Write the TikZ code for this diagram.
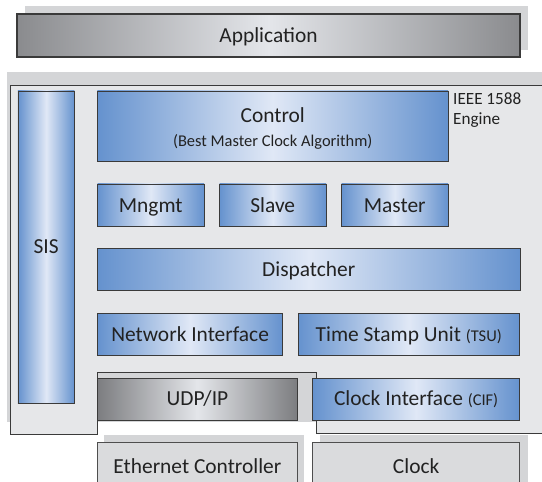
\documentclass[tikz,border=0pt]{standalone}
\usepackage{fontspec}
\setmainfont{Carlito}
\definecolor{blueE}{HTML}{6592CE}
\definecolor{blueL}{HTML}{E0E8F6}
\definecolor{grayE}{HTML}{8A8B8E}
\definecolor{grayD}{HTML}{7C7D80}
\definecolor{grayL}{HTML}{E4E6EA}
\definecolor{lightbox}{HTML}{DADBDD}
\definecolor{shadowc}{HTML}{D4D5D7}
\definecolor{framec}{HTML}{E6E7E9}
\definecolor{edgec}{HTML}{3A3A3A}
\definecolor{textc}{HTML}{222222}
\newcommand\bigfont{\fontsize{21.5}{24}\selectfont}
\newcommand\smallfont{\fontsize{16.5}{19}\selectfont}
\tikzset{
  box/.style={draw=edgec, line width=0.9bp, inner sep=0pt, text=textc,
    font=\bigfont, text height=13.8bp, text depth=0pt},
  bluebox/.style={box, left color=blueE, right color=blueE, middle color=blueL},
  graybox/.style={box, left color=grayE, right color=grayE, middle color=grayL},
  darkgraybox/.style={box, left color=grayD, right color=grayD, middle color=grayL},
  plainbox/.style={box, fill=lightbox, draw=edgec!90},
  shadowfill/.style={fill=shadowc},
  framestyle/.style={fill=framec, draw=edgec, line width=0.9bp},
  lbl/.style={inner sep=0pt, text=textc}
}
\begin{document}
\begin{tikzpicture}[x=1bp,y=-1bp]
\useasboundingbox (0,0) rectangle (542,482);
\clip (0,0) rectangle (542,482);
% application
\fill[shadowfill] (25,6) rectangle (528,50);
\node[graybox, line width=1.8bp, minimum width=503bp, minimum height=42.7bp] (app) at (268.5,35.3) {Application};
% engine frame
\fill[shadowfill] (6.7,72.3) rectangle (560,421.7);
\draw[framestyle] (10,85.3) -- (560,85.3) -- (560,433.5) -- (316,433.5) -- (316,372)
  -- (97.3,372) -- (97.3,434) -- (10,434) -- cycle;
\node[lbl, font=\fontsize{17.2}{20}\selectfont, anchor=base west] (ieee) at (453,105) {IEEE 1588};
\node[lbl, font=\fontsize{17.2}{20}\selectfont, anchor=base west] (engine) at (453,125) {Engine};
% blue boxes
\node[bluebox, minimum width=56.5bp, minimum height=312bp] (sis) at (46.2,247) {SIS};
\node[bluebox, minimum width=350.5bp, minimum height=70.7bp] (control) at (272.75,126.35) {};
\node[lbl, font=\bigfont, anchor=base] (controltxt) at (272.75,123) {Control};
\node[lbl, font=\smallfont, anchor=base] (bmca) at (272.75,146.7) {(Best Master Clock Algorithm)};
\node[bluebox, minimum width=106.5bp, minimum height=42.7bp] (mngmt) at (150.75,205.35) {Mngmt};
\node[bluebox, minimum width=106.5bp, minimum height=42.7bp] (slave) at (272.75,205.35) {Slave};
\node[bluebox, minimum width=106.5bp, minimum height=42.7bp] (master) at (394.75,205.35) {Master};
\node[bluebox, minimum width=422.5bp, minimum height=42.4bp] (disp) at (308.75,269.5) {Dispatcher};
\node[bluebox, minimum width=185.2bp, minimum height=42.4bp] (ni) at (190.1,334.5) {Network Interface};
\node[bluebox, minimum width=221.5bp, minimum height=42.4bp] (tsu) at (408.75,334.5) {Time Stamp Unit {\smallfont(TSU)}};
\node[darkgraybox, minimum width=199.8bp, minimum height=42bp] (udp) at (197.4,399) {UDP/IP};
\node[bluebox, minimum width=206.7bp, minimum height=42bp] (cif) at (416.15,399) {Clock Interface {\smallfont(CIF)}};
% hardware
\fill[shadowfill] (103.5,435) rectangle (304,495);
\fill[shadowfill] (320,435) rectangle (527.7,495);
\node[plainbox, minimum width=199.8bp, minimum height=47.3bp] (eth) at (197.4,466.35) {Ethernet Controller};
\node[plainbox, minimum width=206.7bp, minimum height=47.3bp] (clock) at (416.15,466.35) {Clock};
\end{tikzpicture}
\end{document}
